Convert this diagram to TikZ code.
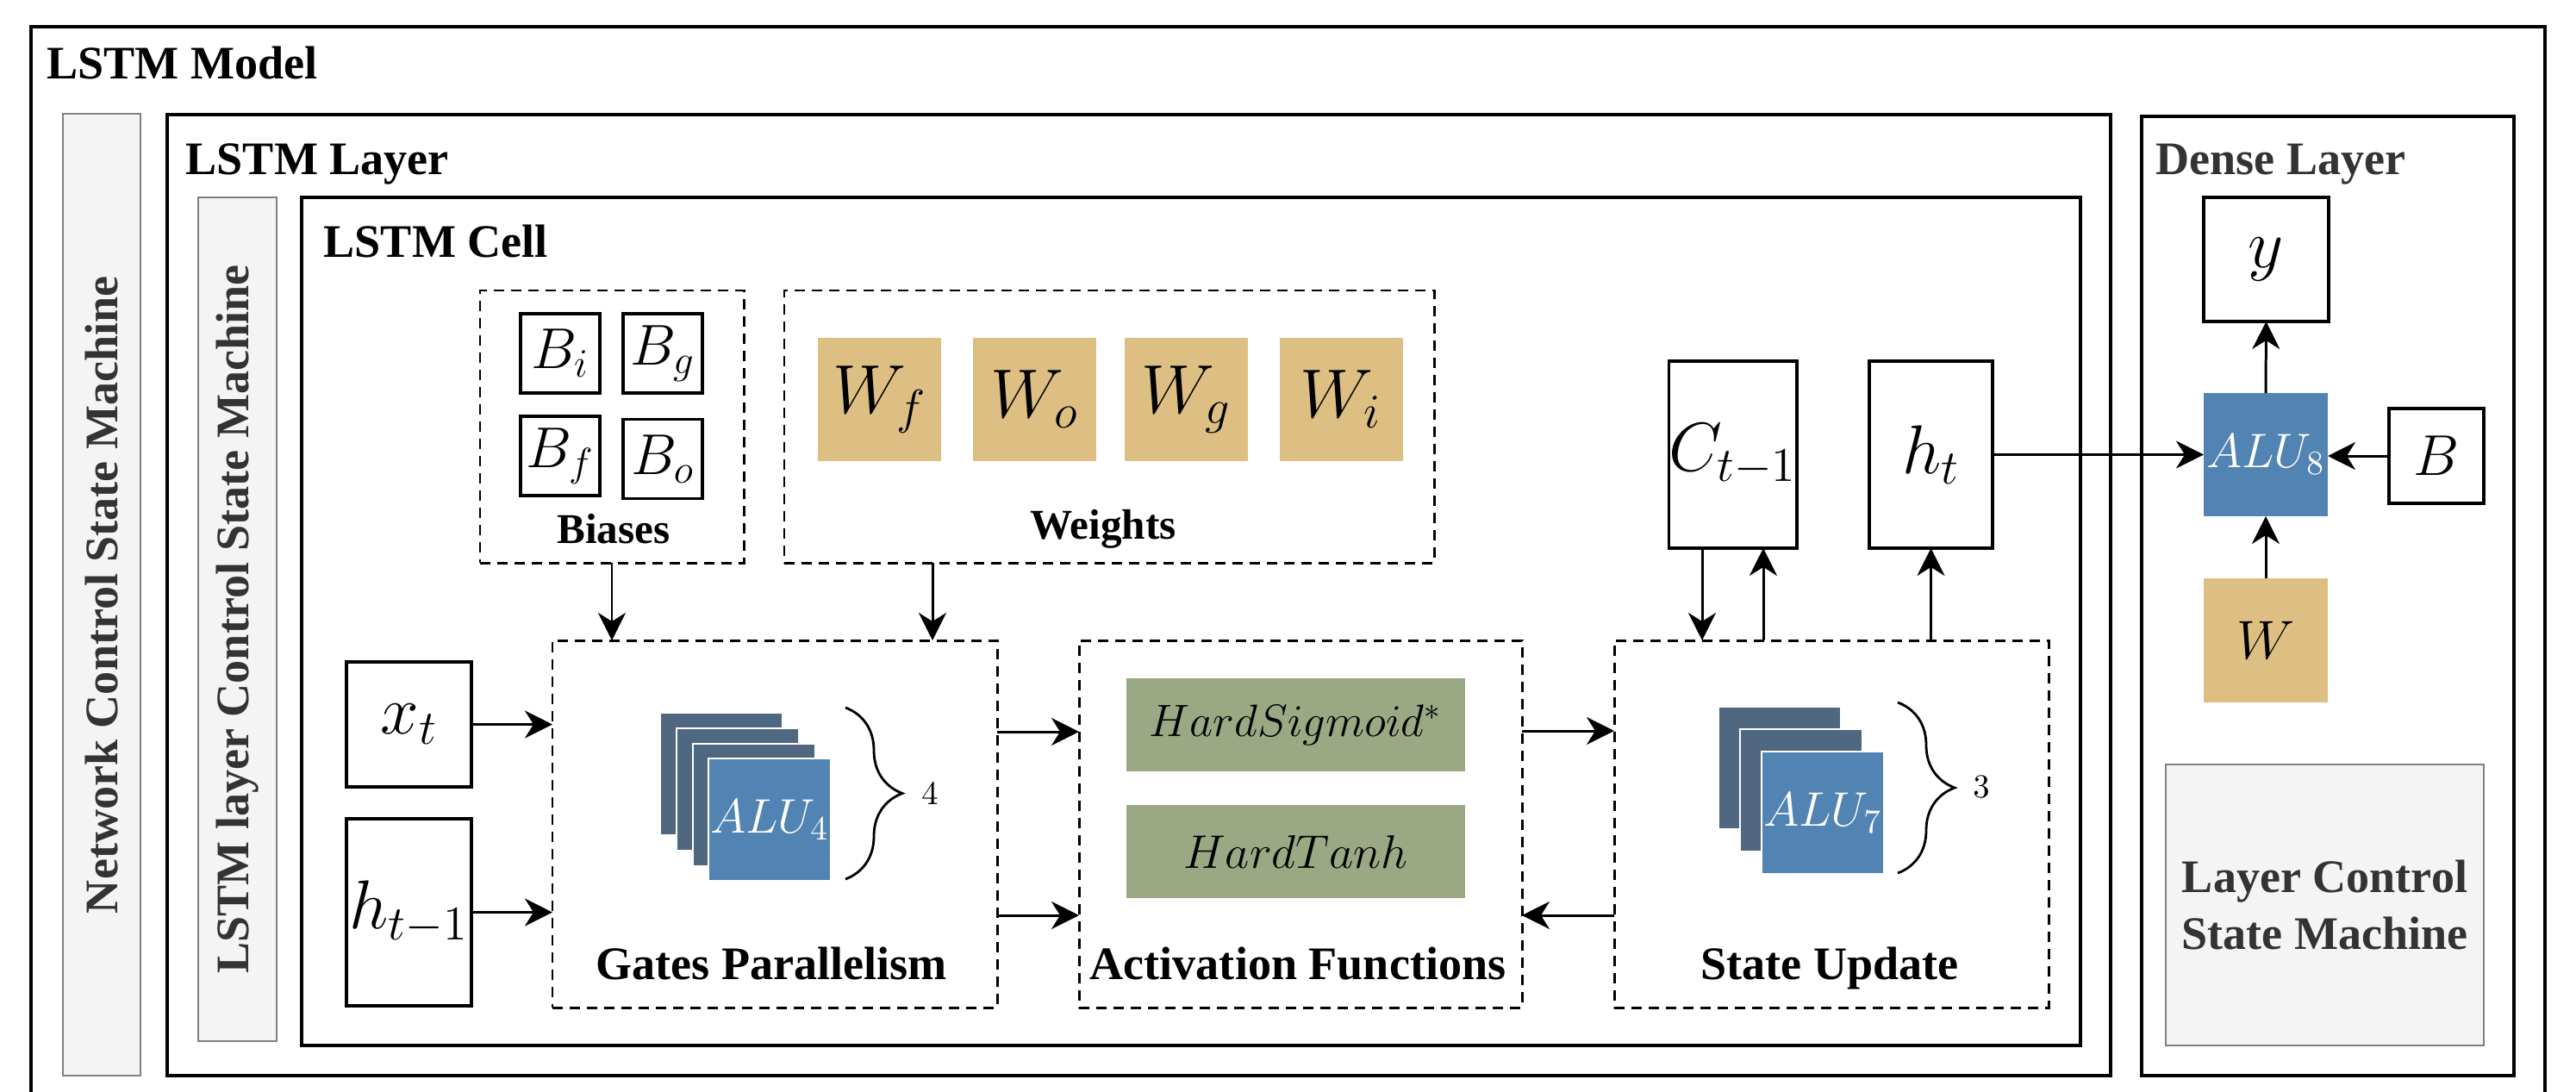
\RequirePackage{fix-cm}
\documentclass[tikz,border=0pt]{standalone}
\usepackage{fontspec}
\setmainfont{Liberation Serif}
\usetikzlibrary{arrows.meta,decorations.pathreplacing,calc}

\definecolor{stripfill}{HTML}{F4F4F4}
\definecolor{stripline}{HTML}{808080}
\definecolor{darktext}{HTML}{333333}
\definecolor{alufront}{HTML}{5284B3}
\definecolor{aluback}{HTML}{4F6780}
\definecolor{weightfill}{HTML}{DDBF84}
\definecolor{actfill}{HTML}{9AA883}

\tikzset{
  frame/.style={draw=black, line width=0.9pt, inner sep=0pt, outer sep=0pt},
  strip/.style={draw=stripline, fill=stripfill, line width=0.8pt, inner sep=0pt, outer sep=0pt,
    text=darktext, font=\fontsize{15.4pt}{18pt}\selectfont\bfseries},
  group/.style={draw=black, line width=0.85pt, dash pattern=on 0.12cm off 0.08cm, inner sep=0pt, outer sep=0pt},
  valbox/.style={draw=black, line width=0.9pt, fill=white, inner sep=0pt, outer sep=0pt},
  wbox/.style={fill=weightfill, inner sep=0pt, outer sep=0pt, minimum width=1.43cm, minimum height=1.43cm},
  actbox/.style={fill=actfill, inner sep=0pt, outer sep=0pt, minimum width=3.93cm, minimum height=1.08cm,
    font=\fontsize{15.6pt}{18pt}\selectfont},
  alulayer/.style={fill=aluback, draw=white, line width=0.5pt, inner sep=0pt, outer sep=0pt,
    minimum width=1.42cm, minimum height=1.42cm},
  alutop/.style={alulayer, fill=alufront, text=white, font=\fontsize{16pt}{19pt}\selectfont},
  bigmath/.style={font=\fontsize{22.8pt}{27pt}\selectfont},
  midmath/.style={font=\fontsize{19pt}{22pt}\selectfont},
  title/.style={anchor=base west, inner sep=0pt, font=\fontsize{15.4pt}{18pt}\selectfont\bfseries},
  grouplabel/.style={anchor=base, inner sep=0pt, font=\fontsize{15.4pt}{18pt}\selectfont\bfseries},
  smalllabel/.style={anchor=base, inner sep=0pt, font=\fontsize{14pt}{17pt}\selectfont\bfseries},
  count/.style={inner sep=0pt, font=\fontsize{11pt}{13pt}\selectfont},
  arr/.style={line width=0.85pt, -{Stealth[length=0.32cm,width=0.32cm,inset=0.1cm]}},
  curly/.style={line width=0.8pt, decorate, decoration={brace, amplitude=0.66cm}}
}

\begin{document}
\begin{tikzpicture}
\useasboundingbox (0,0) rectangle (29.89,-12.67);

% model frame (its lower edge lies below the page)
\draw[line width=0.9pt] (0.36,-12.80) -- (0.36,-0.31) -- (29.53,-0.31) -- (29.53,-12.80);
\node[title] (modeltitle) at (0.54,-0.91) {LSTM Model};

% control strips
\node[strip, rotate=90, minimum width=11.16cm, minimum height=0.90cm] (netsm) at (1.18,-6.90)
  {Network Control State Machine};

% LSTM layer
\node[frame, minimum width=22.55cm, minimum height=11.15cm] (layer) at (13.215,-6.905) {};
\node[title] (layertitle) at (2.15,-2.02) {LSTM Layer};
\node[strip, rotate=90, minimum width=9.79cm, minimum height=0.91cm] (layersm) at (2.755,-7.185)
  {LSTM layer Control State Machine};

% LSTM cell
\node[frame, minimum width=20.64cm, minimum height=9.84cm] (cell) at (13.82,-7.21) {};
\node[title] (celltitle) at (3.75,-2.98) {LSTM Cell};

% biases
\node[group, minimum width=3.06cm, minimum height=3.16cm] (biases) at (7.10,-4.95) {};
\node[valbox, midmath, minimum width=0.92cm, minimum height=0.92cm] (bi) at (6.50,-4.10) {$B_i$};
\node[valbox, midmath, minimum width=0.92cm, minimum height=0.92cm] (bg) at (7.69,-4.10) {$B_g$};
\node[valbox, midmath, minimum width=0.92cm, minimum height=0.92cm] (bf) at (6.50,-5.29) {$B_f$};
\node[valbox, midmath, minimum width=0.92cm, minimum height=0.92cm] (bo) at (7.69,-5.325) {$B_o$};
\node[smalllabel] (biaseslabel) at (7.12,-6.30) {Biases};

% weights
\node[group, minimum width=7.54cm, minimum height=3.16cm] (weights) at (12.87,-4.95) {};
\node[wbox, bigmath] (wf) at (10.205,-4.635) {$W_f$};
\node[wbox, bigmath] (wo) at (12.005,-4.635) {$W_o$};
\node[wbox, bigmath] (wg) at (13.765,-4.635) {$W_g$};
\node[wbox, bigmath] (wi) at (15.56,-4.635) {$W_i$};
\node[smalllabel] (weightslabel) at (12.80,-6.25) {Weights};

% inputs
\node[valbox, bigmath, minimum width=1.45cm, minimum height=1.45cm] (xt) at (4.745,-8.405) {$x_t$};
\node[valbox, bigmath, minimum width=1.45cm, minimum height=2.17cm] (hprev) at (4.745,-10.585) {$h_{t-1}$};

% gates parallelism
\node[group, minimum width=5.16cm, minimum height=4.26cm] (gates) at (8.99,-9.56) {};
\node[alulayer] (alu4a) at (8.37,-8.98) {};
\node[alulayer] (alu4b) at (8.56,-9.16) {};
\node[alulayer] (alu4c) at (8.75,-9.34) {};
\node[alutop] (alu4) at (8.93,-9.51) {$ALU_4$};
\coordinate (brace4top) at (9.81,-8.21);
\coordinate (brace4bot) at (9.81,-10.20);
\draw[curly] (brace4top) -- (brace4bot);
\node[count] (four) at (10.79,-9.21) {$4$};
\node[grouplabel] (gateslabel) at (8.95,-11.36) {Gates Parallelism};

% activation functions
\node[group, minimum width=5.14cm, minimum height=4.26cm] (act) at (15.09,-9.56) {};
\node[actbox, font=\fontsize{15pt}{18pt}\selectfont] (hsig) at (15.035,-8.41) {$HardSigmoid^{*}$};
\node[actbox] (htanh) at (15.035,-9.88) {$HardTanh$};
\node[grouplabel] (actlabel) at (15.06,-11.36) {Activation Functions};

% state update
\node[group, minimum width=5.04cm, minimum height=4.26cm] (state) at (21.25,-9.56) {};
\node[alulayer] (alu7a) at (20.65,-8.91) {};
\node[alulayer] (alu7b) at (20.90,-9.17) {};
\node[alutop] (alu7) at (21.15,-9.43) {$ALU_7$};
\coordinate (brace7top) at (22.02,-8.15);
\coordinate (brace7bot) at (22.02,-10.13);
\draw[curly] (brace7top) -- (brace7bot);
\node[count] (three) at (22.99,-9.13) {$3$};
\node[grouplabel] (statelabel) at (21.23,-11.36) {State Update};

% cell state and output
\node[valbox, bigmath, minimum width=1.45cm, minimum height=2.17cm] (ctm) at (20.105,-5.275) {$C_{t-1}$};
\node[valbox, bigmath, minimum width=1.43cm, minimum height=2.17cm] (ht) at (22.405,-5.275) {$h_t$};

% dense layer
\node[frame, minimum width=4.32cm, minimum height=11.13cm] (dense) at (27.01,-6.915) {};
\node[title, text=darktext] (densetitle) at (25.01,-2.02) {Dense Layer};
\node[valbox, bigmath, minimum width=1.45cm, minimum height=1.44cm] (yout) at (26.295,-3.01) {$y$};
\node[alutop, minimum width=1.44cm, minimum height=1.43cm, draw=none] (alu8) at (26.29,-5.275) {$ALU_8$};
\node[valbox, midmath, minimum width=1.10cm, minimum height=1.10cm] (bd) at (28.27,-5.29) {$B$};
\node[wbox, font=\fontsize{18pt}{21pt}\selectfont, minimum width=1.44cm, minimum height=1.44cm] (wd) at (26.29,-7.43) {$W$};
\node[strip, align=center, minimum width=3.69cm, minimum height=3.26cm,
  font=\fontsize{15.4pt}{19pt}\selectfont\bfseries] (densesm) at (26.975,-10.50)
  {Layer Control\\State Machine};

% connectors: parameters into the gates
\draw[arr] (biases.south) -- (biases.south |- gates.north);
\coordinate (wdrop) at ([xshift=1.72cm]weights.south west);
\draw[arr] (wdrop) -- (wdrop |- gates.north);

% inputs into the gates
\draw[arr] (xt.east) -- (xt.east -| gates.west);
\draw[arr] (hprev.east) -- (hprev.east -| gates.west);

% gates, activations and state update
\draw[arr] ([yshift=1.07cm]gates.east) -- ([yshift=1.07cm]act.west);
\draw[arr] ([yshift=-1.06cm]gates.east) -- ([yshift=-1.06cm]act.west);
\draw[arr] ([yshift=1.08cm]act.east) -- ([yshift=1.08cm]state.west);
\draw[arr] ([yshift=-1.06cm]state.west) -- ([yshift=-1.06cm]act.east);

% cell state and hidden state
\draw[arr] ([xshift=-0.355cm]ctm.south) -- ([xshift=-0.355cm]ctm.south |- state.north);
\draw[arr] ([xshift=0.355cm]ctm.south |- state.north) -- ([xshift=0.355cm]ctm.south);
\draw[arr] (ht.south |- state.north) -- (ht.south);

% dense layer data path
\draw[arr] (ht.east) -- (alu8.west);
\draw[arr] (bd.west) -- (bd.west -| alu8.east);
\draw[arr] (wd.north) -- (alu8.south);
\draw[arr] (alu8.north) -- (yout.south);
\end{tikzpicture}
\end{document}
